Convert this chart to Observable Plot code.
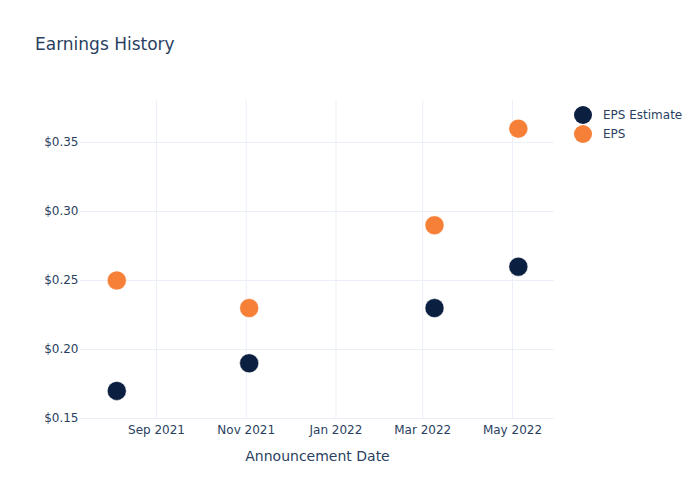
<!DOCTYPE html>
<html>
<head>
<meta charset="utf-8">
<script src="https://cdn.jsdelivr.net/npm/d3@7"></script>
<script src="https://cdn.jsdelivr.net/npm/@observablehq/plot@0.6"></script>
<style>
  html, body { margin: 0; padding: 0; background: #fff; }
  #wrap { position: relative; width: 700px; height: 500px; font-family: "DejaVu Sans", Verdana, sans-serif; color: #2a3f5f; }
  #title { position: absolute; left: 35px; top: 33px; font-size: 17px; line-height: 22px; white-space: nowrap; }
  #legend { position: absolute; left: 574px; top: 105px; font-size: 12px; }
  .li { display: flex; align-items: center; height: 19px; }
  .sw { width: 18px; height: 18px; border-radius: 50%; margin-right: 11px; }
  #chart { position: absolute; left: 0; top: 0; }
</style>
</head>
<body>
<div id="wrap">
  <div id="chart"></div>
  <div id="title">Earnings History</div>
  <div id="legend"></div>
</div>
<script>
const dates = ["2021-08-05", "2021-11-03", "2022-03-09", "2022-05-05"];
const epsEstimate = [0.17, 0.19, 0.23, 0.26];
const eps = [0.25, 0.23, 0.29, 0.36];
const seriesNames = ["EPS Estimate", "EPS"];
const seriesColors = ["#0b1f41", "#f68038"];
const yTicks = [0.15, 0.20, 0.25, 0.30, 0.35];
const xTicks = ["2021-09-01", "2021-11-01", "2022-01-01", "2022-03-01", "2022-05-01"];

const data = [];
dates.forEach((d, i) => {
  data.push({date: new Date(d), value: epsEstimate[i], series: seriesNames[0]});
  data.push({date: new Date(d), value: eps[i], series: seriesNames[1]});
});

const chart = Plot.plot({
  width: 700,
  height: 500,
  marginLeft: 80,
  marginRight: 146,
  marginTop: 100,
  marginBottom: 81,
  style: {fontFamily: '"DejaVu Sans", Verdana, sans-serif', fontSize: "12px", color: "#2a3f5f", background: "#fff"},
  x: {type: "utc", domain: [new Date("2021-07-11T08:00:00Z"), new Date("2022-05-29T14:00:00Z")]},
  y: {domain: [0.14928, 0.3804]},
  color: {domain: seriesNames, range: seriesColors},
  marks: [
    Plot.gridX(xTicks.map(d => new Date(d)), {stroke: "#ebf0f8", strokeOpacity: 1, strokeWidth: 1}),
    Plot.gridY(yTicks, {stroke: "#ebf0f8", strokeOpacity: 1, strokeWidth: 1}),
    Plot.axisX(xTicks.map(d => new Date(d)), {tickSize: 0, tickPadding: 6, tickFormat: d3.utcFormat("%b %Y"), label: null, fill: "#2a3f5f"}),
    Plot.axisY(yTicks, {tickSize: 0, tickPadding: 2, tickFormat: d => "$" + d.toFixed(2), label: null, fill: "#2a3f5f"}),
    Plot.text(["Announcement Date"], {frameAnchor: "bottom", dy: 37, fontSize: 14, fill: "#2a3f5f", lineAnchor: "middle"}),
    Plot.dot(data, {x: "date", y: "value", fill: "series", r: 9.5, stroke: "#fff", strokeWidth: 0.5})
  ]
});
document.getElementById("chart").appendChild(chart);

const legend = document.getElementById("legend");
seriesNames.forEach((n, i) => {
  const row = document.createElement("div");
  row.className = "li";
  const sw = document.createElement("div");
  sw.className = "sw";
  sw.style.background = seriesColors[i];
  const t = document.createElement("span");
  t.textContent = n;
  row.appendChild(sw);
  row.appendChild(t);
  legend.appendChild(row);
});
</script>
</body>
</html>
